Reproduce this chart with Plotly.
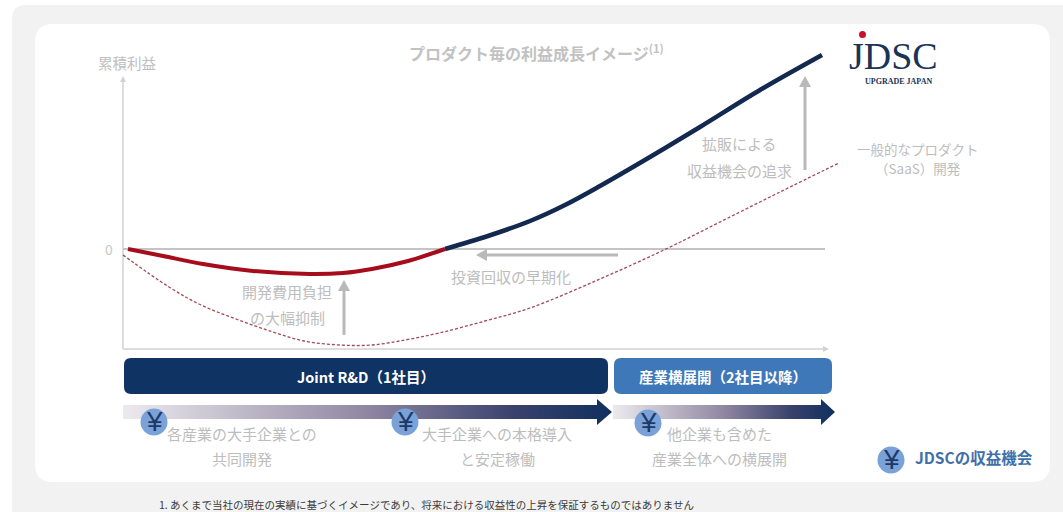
import plotly.graph_objects as go

# Values (time = arbitrary units, profit = cumulative profit, 0 at the zero line)
red_time = [5, 40, 80, 130, 187, 220, 249, 285, 322]
red_profit = [0, -7, -15, -22, -25, -24, -20, -12, 0]
navy_time = [322, 365, 407, 442, 477, 527, 577, 637, 699]
navy_profit = [0, 13, 28, 44, 63, 92, 122, 159, 194]
saas_time = [0, 46, 78, 113, 147, 181, 217, 249, 282, 316, 362, 407, 477, 543, 597, 657, 716]
saas_profit = [-6, -38, -56, -70, -82, -92, -96, -96, -91, -84, -72, -59, -30, 0, 27, 57, 86]

title = "プロダクト毎の利益成長イメージ"
axis_label = "累積利益"
footnote = "1. あくまで当社の現在の実績に基づくイメージであり、将来における収益性の上昇を保証するものではありません"
phase_labels = ["Joint R&D（1社目）", "産業横展開（2社目以降）"]

FONT = "Noto Sans CJK JP"
GREY = "#bdbdbd"
NAVY = "#13294f"
RED = "#a60d1c"
BAR1 = "#0f3362"
BAR2 = "#3f78b8"
YEN = "#7aa2d8"


def X(px):
    return px - 123


def Y(py):
    return 249 - py


def rrect(x0, y0, x1, y1, r, fill, layer="below"):
    a0, a1 = X(x0), X(x1)
    b0, b1 = Y(y0), Y(y1)
    d = (f"M{a0+r},{b0} L{a1-r},{b0} Q{a1},{b0} {a1},{b0-r} L{a1},{b1+r} Q{a1},{b1} {a1-r},{b1} "
         f"L{a0+r},{b1} Q{a0},{b1} {a0},{b1+r} L{a0},{b0-r} Q{a0},{b0} {a0+r},{b0} Z")
    return dict(type="path", path=d, fillcolor=fill, line=dict(width=0), layer=layer)


def line(x0, y0, x1, y1, color="#d2d2d2", w=1.5):
    return dict(type="line", x0=X(x0), y0=Y(y0), x1=X(x1), y1=Y(y1),
                line=dict(color=color, width=w), layer="below")


def head(tx, ty, dx, dy, half, length, color):
    """Triangle with tip (tx, ty) pointing along the unit direction (dx, dy)."""
    bx, by = tx - dx * length, ty - dy * length
    nx, ny = -dy * half, dx * half
    pts = [(tx, ty), (bx + nx, by + ny), (bx - nx, by - ny)]
    d = "M" + " L".join(f"{X(a)},{Y(b)}" for a, b in pts) + " Z"
    return dict(type="path", path=d, fillcolor=color, line=dict(width=0), layer="below")


def arrow(x0, y0, x1, y1, color="#b9b9b9", w=3, half=6, length=11):
    n = ((x1 - x0) ** 2 + (y1 - y0) ** 2) ** 0.5
    dx, dy = (x1 - x0) / n, (y1 - y0) / n
    return [line(x0, y0, x1 - dx * length * 0.8, y1 - dy * length * 0.8, color, w),
            head(x1, y1, dx, dy, half, length, color)]


def circle(cx, cy, r=13.5):
    return dict(type="circle", x0=X(cx - r), x1=X(cx + r), y0=Y(cy - r), y1=Y(cy + r),
                fillcolor=YEN, line=dict(width=0), layer="above")


def txt(cx, cy, s, size=15, color=GREY, bold=False, anchor="center", family=FONT):
    return dict(x=X(cx), y=Y(cy), text=f"<b>{s}</b>" if bold else s, showarrow=False, xanchor=anchor,
                yanchor="middle", font=dict(family=family, size=size, color=color))


shapes = [
    rrect(12, 5, 1090, 530, 14, "#f2f2f2"),
    rrect(35, 24, 1050, 482, 18, "#ffffff"),
    *arrow(123, 349, 123, 76, "#d2d2d2", 1.5, 3, 6),
    *arrow(123, 349, 829, 349, "#d2d2d2", 1.5, 3, 6),
    line(123, 249, 825, 249, "#c4c4c4", 2),
    *arrow(805, 170, 805, 76),
    *arrow(344, 335, 344, 280),
    *arrow(618, 255, 476, 255),
    rrect(124, 358, 608, 394, 7, BAR1),
    rrect(614, 358, 832, 394, 7, BAR2),
    circle(154, 422), circle(405, 422), circle(648, 423), circle(891, 460),
    dict(type="circle", x0=X(859), x1=X(866), y0=Y(31), y1=Y(38), fillcolor="#c8102e",
         line=dict(width=0), layer="above"),
]

annotations = [
    txt(536, 52, title + "<sup>(1)</sup>", 16, "#c2c2c2", True),
    txt(127, 62, axis_label, 14.5, "#c0c0c0"),
    txt(109, 249, "0", 14, "#c8c8c8"),
    txt(739, 143, "拡販による"),
    txt(739, 170, "収益機会の追求"),
    txt(918, 149, "一般的なプロダクト", 13.5),
    txt(918, 168, "（SaaS）開発", 13.5),
    txt(511, 276, "投資回収の早期化"),
    txt(287, 291, "開発費用負担"),
    txt(287, 317, "の大幅抑制"),
    txt(366, 376, phase_labels[0], 14.5, "#ffffff", True),
    txt(723, 376, phase_labels[1], 14.5, "#ffffff", True),
    txt(242, 433, "各産業の大手企業との"),
    txt(242, 458, "共同開発"),
    txt(497, 433, "大手企業への本格導入"),
    txt(497, 458, "と安定稼働"),
    txt(719, 433, "他企業も含めた"),
    txt(719, 458, "産業全体への横展開"),
    txt(913, 457, "JDSCの収益機会", 15.5, "#3f70aa", True, "left"),
    txt(157, 504, footnote, 10.5, "#3c3c3c", False, "left"),
    txt(893, 56, "JDSC", 38, "#1b3354", False, "center", "Liberation Serif"),
    txt(898, 81, "UPGRADE JAPAN", 8, "#1b3354", True, "center", "Liberation Serif"),
]

for cx, cy in [(154, 421), (405, 421), (648, 422), (891, 459)]:
    annotations.append(txt(cx, cy, "¥", 28, "#1e3a68", False, "center", "Liberation Sans"))


def band(x0, xh, xt, cy, name):
    xs = [x0, xh, xh, xt, xh, xh, x0, x0]
    ys = [cy - 7, cy - 7, cy - 13, cy, cy + 13, cy + 7, cy + 7, cy - 7]
    return go.Scatter(
        x=[X(v) for v in xs], y=[Y(v) for v in ys], mode="lines", fill="toself", name=name,
        line=dict(width=0), hoverinfo="skip",
        fillgradient=dict(type="horizontal",
                          colorscale=[[0, "#eceaee"], [0.5, "#8f87a2"], [0.8, "#39426c"], [1, "#10305e"]]),
    )


fig = go.Figure()
fig.add_trace(band(123, 597, 612, 412, "phase 1"))
fig.add_trace(band(613, 821, 835, 412, "phase 2"))
fig.add_trace(go.Scatter(x=saas_time, y=saas_profit, mode="lines", name="一般的なプロダクト",
                         line=dict(color="#a24a58", width=1.3, dash="3px,2px", shape="spline"), hoverinfo="skip"))
fig.add_trace(go.Scatter(x=navy_time, y=navy_profit, mode="lines", name="JDSC 産業横展開",
                         line=dict(color=NAVY, width=4.5, shape="spline"), hoverinfo="skip"))
fig.add_trace(go.Scatter(x=red_time, y=red_profit, mode="lines", name="JDSC Joint R&D",
                         line=dict(color=RED, width=4, shape="spline"), hoverinfo="skip"))

fig.update_layout(
    width=1063, height=512, margin=dict(l=0, r=0, t=0, b=0, pad=0), showlegend=False,
    paper_bgcolor="#ffffff", plot_bgcolor="#ffffff",
    xaxis=dict(range=[X(0), X(1063)], visible=False, fixedrange=True),
    yaxis=dict(range=[Y(512), Y(0)], visible=False, fixedrange=True),
    shapes=shapes, annotations=annotations,
)

fig.write_html("out.html", post_script="document.body.style.margin='0';", config={"displayModeBar": False})
